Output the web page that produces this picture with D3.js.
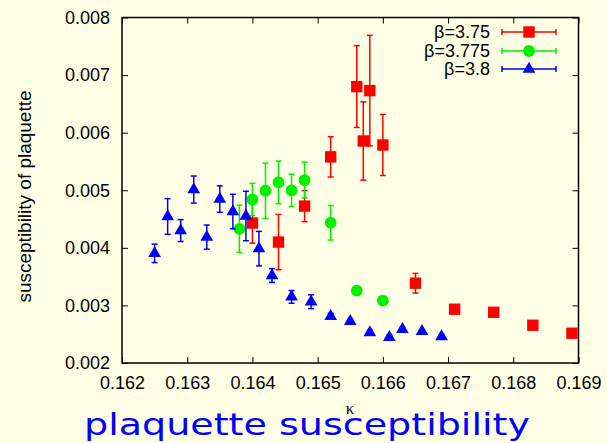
<!DOCTYPE html>
<html>
<head>
<meta charset="utf-8">
<script src="https://cdn.jsdelivr.net/npm/d3@7"></script>
<style>
  body { margin: 0; background: #ffffe6; }
  svg { display: block; }
</style>
</head>
<body>
<div id="container"></div>
<script>
// beta = 3.75 (red squares)
const kappa375 = [0.1640, 0.1644, 0.1648, 0.1652, 0.1656, 0.1657, 0.1658, 0.1660, 0.1665, 0.1671, 0.1677, 0.1683, 0.1689];
const chi375   = [0.00443, 0.00410, 0.004725, 0.00558, 0.00680, 0.005855, 0.00673, 0.005786, 0.003386, 0.002934, 0.002881, 0.002656, 0.002517];
const err375   = [0.00035, 0.00048, 0.00027, 0.00035, 0.00071, 0.00068, 0.00096, 0.00053, 0.00017, 0.00003, 0.00003, 0.00003, 0.00003];

// beta = 3.775 (green circles)
const kappa3775 = [0.1638, 0.1640, 0.1642, 0.1644, 0.1646, 0.1648, 0.1652, 0.1656, 0.1660];
const chi3775   = [0.00433, 0.00484, 0.004991, 0.005136, 0.004997, 0.005177, 0.004435, 0.003257, 0.003083];
const err3775   = [0.00041, 0.00028, 0.00048, 0.00037, 0.00028, 0.00031, 0.00030, 0.00005, 0.00004];

// beta = 3.8 (blue triangles)
const kappa38 = [0.1625, 0.1627, 0.1629, 0.1631, 0.1633, 0.1635, 0.1637, 0.1639, 0.1641, 0.1643, 0.1646, 0.1649, 0.1652, 0.1655, 0.1658, 0.1661, 0.1663, 0.1666, 0.1669];
const chi38   = [0.003904, 0.004544, 0.00430, 0.005012, 0.004186, 0.004847, 0.00463, 0.004553, 0.003986, 0.003519, 0.003148, 0.003064, 0.002812, 0.002725, 0.002527, 0.002447, 0.002586, 0.002551, 0.002458];
const err38   = [0.00016, 0.00031, 0.00019, 0.000235, 0.00021, 0.00023, 0.00030, 0.00043, 0.00030, 0.00012, 0.00011, 0.00012, 0.00005, 0.00004, 0.00004, 0.00004, 0.00003, 0.00003, 0.00004];

const xTicks = [0.162, 0.163, 0.164, 0.165, 0.166, 0.167, 0.168, 0.169];
const yTicks = [0.002, 0.003, 0.004, 0.005, 0.006, 0.007, 0.008];
const seriesNames = ["\u03b2=3.75", "\u03b2=3.775", "\u03b2=3.8"];

const width = 607, height = 443;
const mLeft = 122, mRight = 578.5, mTop = 17.5, mBottom = 363;

const svg = d3.select("#container").append("svg")
  .attr("width", width)
  .attr("height", height)
  .style("font-family", "'Liberation Sans', Arial, sans-serif");

svg.append("rect").attr("width", width).attr("height", height).attr("fill", "#ffffe6");

const x = d3.scaleLinear().domain([0.162, 0.169]).range([mLeft, mRight]);
const y = d3.scaleLinear().domain([0.002, 0.008]).range([mBottom, mTop]);

// axes with inward ticks on all four sides
const fmt = d3.format(".3f");
const axisStyle = g => {
  g.select(".domain").remove();
  g.selectAll("line").attr("stroke", "#000").attr("stroke-width", 1);
  g.selectAll("text").attr("font-size", 18).attr("fill", "#000").attr("font-family", "'Liberation Sans', Arial, sans-serif");
};

svg.append("g").attr("transform", `translate(0,${mBottom})`)
  .call(d3.axisBottom(x).tickValues(xTicks).tickFormat(fmt).tickSize(-6).tickPadding(13))
  .call(axisStyle);
svg.append("g").attr("transform", `translate(0,${mTop})`)
  .call(d3.axisTop(x).tickValues(xTicks).tickFormat("").tickSize(-6))
  .call(axisStyle);
svg.append("g").attr("transform", `translate(${mLeft},0)`)
  .call(d3.axisLeft(y).tickValues(yTicks).tickFormat(fmt).tickSize(-6).tickPadding(12))
  .call(axisStyle);
svg.append("g").attr("transform", `translate(${mRight},0)`)
  .call(d3.axisRight(y).tickValues(yTicks).tickFormat("").tickSize(-6))
  .call(axisStyle);

svg.append("rect")
  .attr("x", mLeft).attr("y", mTop)
  .attr("width", mRight - mLeft).attr("height", mBottom - mTop)
  .attr("fill", "none").attr("stroke", "#000").attr("stroke-width", 1.5);

// axis titles
svg.append("text")
  .attr("transform", "translate(31,196.5) rotate(-90)")
  .attr("text-anchor", "middle")
  .attr("font-size", 18)
  .attr("textLength", 212)
  .attr("lengthAdjust", "spacingAndGlyphs")
  .text("susceptibility of plaquette");

svg.append("text")
  .attr("x", 350).attr("y", 414)
  .attr("text-anchor", "middle")
  .attr("font-family", "'Liberation Serif', 'DejaVu Serif', serif")
  .attr("font-size", 17)
  .text("\u03ba");

svg.append("text")
  .attr("x", 307).attr("y", 435)
  .attr("text-anchor", "middle")
  .attr("font-family", "'DejaVu Sans', sans-serif")
  .attr("font-size", 31)
  .attr("textLength", 446)
  .attr("lengthAdjust", "spacingAndGlyphs")
  .attr("fill", "#0000ff")
  .text("plaquette susceptibility");

// series
const series = [
  { k: kappa375, v: chi375, e: err375, color: "#ff0000", shape: d3.symbolSquare, size: 130 },
  { k: kappa3775, v: chi3775, e: err3775, color: "#00f000", shape: d3.symbolCircle, size: 110 },
  { k: kappa38, v: chi38, e: err38, color: "#0000ff", shape: d3.symbolTriangle, size: 70 }
];

const cap = 3;
series.forEach(s => {
  const pts = s.k.map((k, i) => ({ k, v: s.v[i], e: s.e[i] }));
  const g = svg.append("g");
  const bars = g.selectAll("g.bar").data(pts).join("g")
    .attr("stroke", s.color).attr("stroke-width", 1.5);
  bars.append("line")
    .attr("x1", d => x(d.k)).attr("x2", d => x(d.k))
    .attr("y1", d => y(d.v - d.e)).attr("y2", d => y(d.v + d.e));
  bars.append("line")
    .attr("x1", d => x(d.k) - cap).attr("x2", d => x(d.k) + cap)
    .attr("y1", d => y(d.v - d.e)).attr("y2", d => y(d.v - d.e));
  bars.append("line")
    .attr("x1", d => x(d.k) - cap).attr("x2", d => x(d.k) + cap)
    .attr("y1", d => y(d.v + d.e)).attr("y2", d => y(d.v + d.e));
  g.selectAll("path").data(pts).join("path")
    .attr("d", d3.symbol().type(s.shape).size(s.size))
    .attr("transform", d => `translate(${x(d.k)},${y(d.v)})`)
    .attr("fill", s.color);
});

// legend
const legY = [32, 51, 69];
series.forEach((s, i) => {
  const g = svg.append("g").attr("transform", `translate(0,${legY[i]})`);
  g.append("text")
    .attr("x", 490).attr("y", 0).attr("dy", "0.35em")
    .attr("text-anchor", "end")
    .attr("font-size", 18)
    .text(seriesNames[i]);
  g.append("line").attr("x1", 502).attr("x2", 556).attr("y1", 0).attr("y2", 0)
    .attr("stroke", s.color).attr("stroke-width", 1.5);
  [502, 556].forEach(px => g.append("line")
    .attr("x1", px).attr("x2", px).attr("y1", -cap).attr("y2", cap)
    .attr("stroke", s.color).attr("stroke-width", 1.5));
  g.append("path")
    .attr("d", d3.symbol().type(s.shape).size(s.size))
    .attr("transform", "translate(529,0)")
    .attr("fill", s.color);
});
</script>
</body>
</html>
